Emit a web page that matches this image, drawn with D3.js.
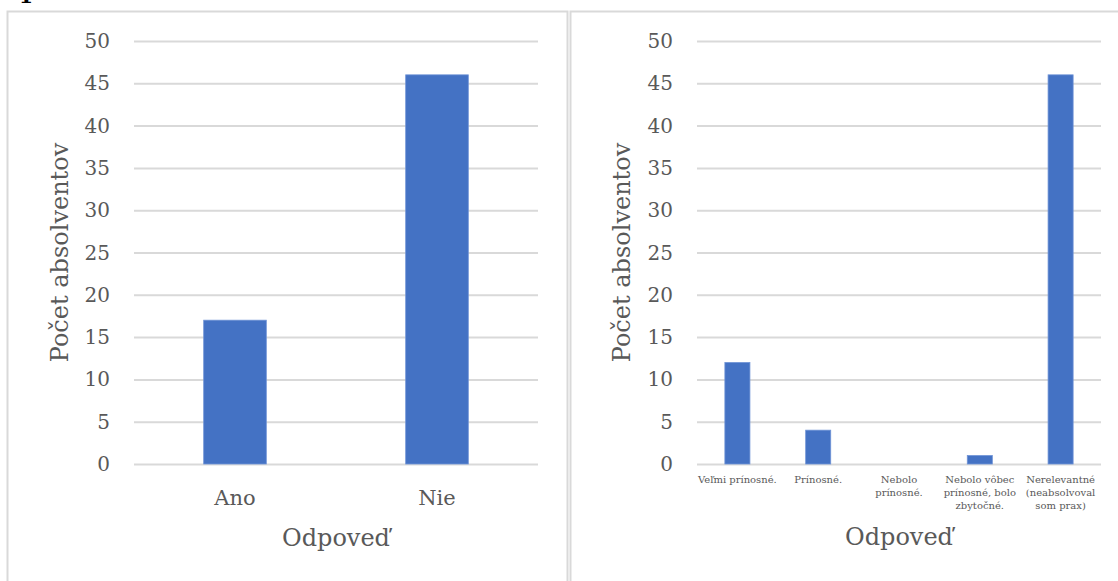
<!DOCTYPE html>
<html><head><meta charset="utf-8">
<script src="https://cdn.jsdelivr.net/npm/d3@7"></script>
<style>
html,body{margin:0;padding:0;background:#fff;}
svg{display:block;}
text{font-family:"DejaVu Serif","Liberation Serif",serif;fill:#595959;}
</style></head>
<body>
<svg id="c" width="1118" height="581"></svg>
<script>
// ---- data ----
const categoriesLeft = ["Ano", "Nie"];
const valuesLeft = [17, 46];
const categoriesRight = ["Veľmi prínosné.", "Prínosné.", "Nebolo\nprínosné.", "Nebolo vôbec\nprínosné, bolo\nzbytočné.", "Nerelevantné\n(neabsolvoval\nsom prax)"];
const valuesRight = [12, 4, 0, 1, 46];
const yTicks = [0, 5, 10, 15, 20, 25, 30, 35, 40, 45, 50];
const yTitle = "Počet absolventov";
const xTitle = "Odpoveď";

const svg = d3.select("#c");

// panel borders
svg.append("rect").attr("x", 7.5).attr("y", 11.5).attr("width", 560).attr("height", 600)
  .attr("fill", "none").attr("stroke", "#d9d9d9").attr("stroke-width", 2);
svg.append("rect").attr("x", 570.5).attr("y", 11.5).attr("width", 600).attr("height", 600)
  .attr("fill", "none").attr("stroke", "#d9d9d9").attr("stroke-width", 2);
// cut-off glyph at top-left (as in the reference)
svg.append("text").attr("x", 19).attr("y", 3).style("fill", "#000").style("font-size", "20px").style("font-weight", "bold").text("1");

function drawChart(opt) {
  const g = svg.append("g");
  const y = d3.scaleLinear().domain([0, 50]).range([464, 41]);
  const x = d3.scaleBand().domain(opt.categories).range([opt.x0, opt.x1]).paddingInner(0.69).paddingOuter(0.345);

  // gridlines
  g.selectAll("line.grid").data(yTicks).enter().append("line")
    .attr("x1", opt.x0).attr("x2", opt.x1)
    .attr("y1", d => y(d) + 0.5).attr("y2", d => y(d) + 0.5)
    .attr("stroke", "#d9d9d9").attr("stroke-width", 2);

  // y tick labels
  g.selectAll("text.yt").data(yTicks).enter().append("text")
    .attr("x", opt.x0 - 24).attr("y", d => y(d)).attr("dy", "0.35em")
    .attr("text-anchor", "end").style("font-size", "20px").text(d => d);

  // bars
  g.selectAll("rect.bar").data(opt.values).enter().append("rect")
    .attr("x", (d, i) => x(opt.categories[i]))
    .attr("width", x.bandwidth())
    .attr("y", d => y(d))
    .attr("height", d => y(0) - y(d))
    .attr("fill", "#4472c4")
    .attr("stroke", "#6f93d6").attr("stroke-width", 0.8);

  // category labels
  opt.categories.forEach(c => {
    const lines = c.split("\n");
    const t = g.append("text").attr("text-anchor", "middle").style("font-size", opt.catSize + "px");
    lines.forEach((ln, k) => {
      t.append("tspan").attr("x", x(c) + x.bandwidth() / 2).attr("y", opt.catY + k * opt.catLH).text(ln);
    });
  });

  // axis titles
  g.append("text").attr("x", (opt.x0 + opt.x1) / 2).attr("y", opt.titleY)
    .attr("text-anchor", "middle").style("font-size", "24px").text(xTitle);
  g.append("text").attr("transform", `translate(${opt.yTitleX},${(y(0) + y(50)) / 2}) rotate(-90)`)
    .attr("text-anchor", "middle").style("font-size", "24px").text(yTitle);
}

drawChart({categories: categoriesLeft, values: valuesLeft, x0: 134, x1: 538, catSize: 21, catY: 505, catLH: 22, titleY: 546, yTitleX: 68});
drawChart({categories: categoriesRight, values: valuesRight, x0: 697, x1: 1101, catSize: 10, catY: 483, catLH: 13, titleY: 545, yTitleX: 630});
</script>
</body></html>
